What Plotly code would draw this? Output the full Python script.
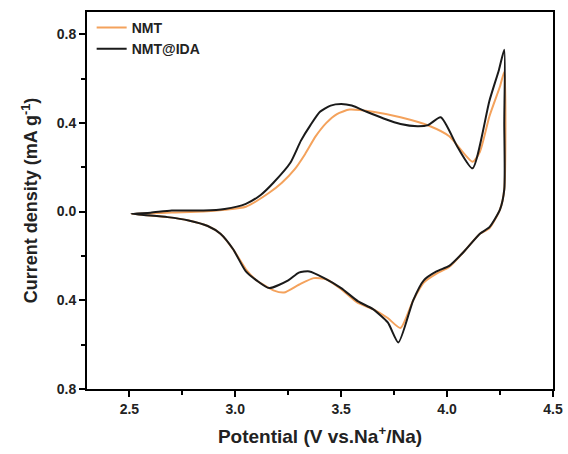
import plotly.graph_objects as go

# NMT@IDA (black) CV loop
idax = [2.51, 2.60, 2.70, 2.85, 2.95, 3.05, 3.12, 3.18, 3.26, 3.31, 3.355, 3.40, 3.45, 3.50, 3.55,
        3.62, 3.70, 3.78, 3.86, 3.91, 3.97, 4.05, 4.12, 4.20, 4.245, 4.27, 4.27, 4.27, 4.25, 4.20,
        4.155, 4.08, 4.01, 3.95, 3.89, 3.84, 3.77, 3.72, 3.65, 3.58, 3.50, 3.42, 3.35, 3.30, 3.25,
        3.16, 3.10, 3.05, 2.99, 2.93, 2.87, 2.78, 2.68, 2.51]
iday = [-0.01, -0.005, 0.005, 0.005, 0.012, 0.035, 0.075, 0.13, 0.22, 0.32, 0.39, 0.45, 0.478, 0.485, 0.478,
        0.45, 0.42, 0.395, 0.385, 0.39, 0.425, 0.29, 0.195, 0.50, 0.64, 0.73, 0.40, 0.10, 0.01, -0.07,
        -0.10, -0.18, -0.245, -0.27, -0.31, -0.40, -0.59, -0.50, -0.44, -0.405, -0.345, -0.30, -0.27, -0.275, -0.31,
        -0.345, -0.31, -0.27, -0.17, -0.10, -0.065, -0.04, -0.025, -0.01]

# NMT (orange) CV loop
nmtx = [2.51, 2.60, 2.70, 2.85, 2.95, 3.05, 3.16, 3.22, 3.28, 3.33, 3.38, 3.43, 3.48, 3.54, 3.65, 3.78,
        3.92, 4.01, 4.12, 4.155, 4.20, 4.25, 4.27, 4.27, 4.25, 4.20, 4.155, 4.08, 4.01, 3.95, 3.89,
        3.84, 3.78, 3.72, 3.65, 3.575, 3.50, 3.43, 3.37, 3.30, 3.23, 3.18, 3.10, 3.05, 2.99, 2.93,
        2.87, 2.78, 2.68, 2.51]
nmty = [-0.01, -0.008, -0.004, 0.0, 0.008, 0.022, 0.085, 0.13, 0.19, 0.26, 0.34, 0.40, 0.44, 0.46, 0.45, 0.425,
        0.385, 0.34, 0.225, 0.27, 0.43, 0.565, 0.63, 0.10, 0.01, -0.075, -0.10, -0.18, -0.25, -0.28, -0.32,
        -0.40, -0.525, -0.48, -0.44, -0.41, -0.35, -0.305, -0.30, -0.33, -0.365, -0.355, -0.31, -0.26, -0.17, -0.10,
        -0.065, -0.04, -0.025, -0.01]

xticks = [2.5, 3.0, 3.5, 4.0, 4.5]
xticklabels = ["2.5", "3.0", "3.5", "4.0", "4.5"]
yticks = [-0.8, -0.4, 0.0, 0.4, 0.8]
yticklabels = ["0.8", "0.4", "0.0", "0.4", "0.8"]

FONT = "Liberation Sans, Arial, sans-serif"

fig = go.Figure()
fig.add_trace(go.Scatter(x=nmtx, y=nmty, mode="lines", name="NMT",
                         line=dict(color="#F4A25C", width=2, shape="spline", smoothing=0.6)))
fig.add_trace(go.Scatter(x=idax, y=iday, mode="lines", name="NMT@IDA",
                         line=dict(color="#1a1a1a", width=2, shape="spline", smoothing=0.6)))

axis_common = dict(showline=True, linecolor="black", linewidth=2, mirror=True,
                   ticks="outside", ticklen=6, tickwidth=2, tickcolor="black",
                   showgrid=False, zeroline=False,
                   tickfont=dict(family=FONT, size=14, color="#222", weight="bold"))

fig.update_xaxes(range=[2.3, 4.5], tickvals=xticks, ticktext=xticklabels,
                 minor=dict(dtick=0.25, tick0=2.25, ticks="outside", ticklen=4, tickwidth=2, tickcolor="black"),
                 title=dict(text="Potential (V vs.Na<sup>+</sup>/Na)",
                            font=dict(family=FONT, size=19, color="#222", weight="bold"), standoff=14),
                 **axis_common)
fig.update_yaxes(range=[-0.8, 0.9], tickvals=yticks, ticktext=yticklabels,
                 minor=dict(dtick=0.2, tick0=0.2, ticks="outside", ticklen=4, tickwidth=2, tickcolor="black"),
                 title=dict(text="Current density (mA g<sup>-1</sup>)",
                            font=dict(family=FONT, size=18, color="#222", weight="bold"), standoff=14),
                 **axis_common)

fig.update_layout(
    width=568, height=454,
    margin=dict(l=87, r=15, t=12, b=65, autoexpand=False),
    plot_bgcolor="white", paper_bgcolor="white",
    font=dict(family=FONT, size=14, color="#222"),
    legend=dict(x=0.01, y=1.0, xanchor="left", yanchor="top",
                bgcolor="rgba(0,0,0,0)", tracegroupgap=0,
                font=dict(family=FONT, size=14, color="#222", weight="bold"),
                itemwidth=30),
    showlegend=True,
)

fig.write_html("out.html")
